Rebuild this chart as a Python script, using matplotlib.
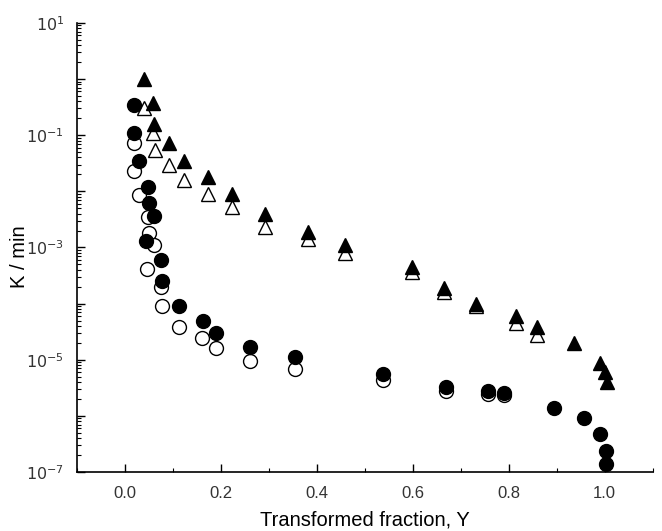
import numpy as np
import matplotlib
matplotlib.use("Agg")
import matplotlib.pyplot as plt
from matplotlib.ticker import LogLocator, FuncFormatter, MultipleLocator

plt.rcParams['font.family'] = ['Liberation Sans', 'DejaVu Sans']
plt.rcParams['mathtext.fontset'] = 'custom'
plt.rcParams['mathtext.rm'] = 'Liberation Sans Narrow'
plt.rcParams['mathtext.it'] = 'Liberation Sans Narrow'

# filled triangles
tri_f_x = [0.04, 0.058, 0.06, 0.092, 0.123, 0.173, 0.223, 0.292, 0.381, 0.458,
           0.598, 0.665, 0.731, 0.815, 0.858, 0.935, 0.99, 1.0, 1.005]
tri_f_y = [1.0, 0.37, 0.16, 0.072, 0.035, 0.018, 0.0091, 0.0039, 0.0019, 0.0011,
           4.4e-4, 1.9e-4, 1.0e-4, 5.9e-5, 3.9e-5, 2.0e-5, 8.9e-6, 6.0e-6, 4.0e-6]

# open triangles
tri_o_x = [0.04, 0.058, 0.062, 0.092, 0.123, 0.173, 0.223, 0.292, 0.381, 0.458,
           0.598, 0.665, 0.731, 0.815, 0.858]
tri_o_y = [0.30, 0.11, 0.054, 0.029, 0.016, 0.0091, 0.0052, 0.0023, 0.0014, 8.1e-4,
           3.6e-4, 1.6e-4, 8.9e-5, 4.6e-5, 2.8e-5]

# filled circles
circ_f_x = [0.019, 0.019, 0.029, 0.048, 0.05, 0.06, 0.044, 0.075, 0.077, 0.113,
            0.163, 0.19, 0.26, 0.354, 0.537, 0.669, 0.756, 0.79, 0.894, 0.956,
            0.99, 1.002, 1.002]
circ_f_y = [0.35, 0.11, 0.035, 0.012, 0.0061, 0.0036, 0.0013, 5.9e-4, 2.5e-4, 9.2e-5,
            5.0e-5, 3.0e-5, 1.7e-5, 1.1e-5, 5.6e-6, 3.3e-6, 2.8e-6, 2.6e-6, 1.4e-6, 9.0e-7,
            4.8e-7, 2.4e-7, 1.4e-7]

# open circles
circ_o_x = [0.019, 0.019, 0.029, 0.048, 0.05, 0.06, 0.046, 0.075, 0.077, 0.113,
            0.16, 0.19, 0.26, 0.354, 0.537, 0.669, 0.756, 0.79]
circ_o_y = [0.072, 0.023, 0.0085, 0.0035, 0.0018, 0.0011, 4.1e-4, 2.0e-4, 8.9e-5, 3.9e-5,
            2.4e-5, 1.6e-5, 9.6e-6, 6.9e-6, 4.4e-6, 2.8e-6, 2.5e-6, 2.4e-6]

fig = plt.figure(figsize=(6.62, 5.31), dpi=100)
ax = fig.add_axes([0.116, 0.111, 0.870, 0.846])

ms = 10
ax.plot(tri_o_x, tri_o_y, '^', ms=ms, mfc='white', mec='black', mew=1.0, ls='none')
ax.plot(circ_o_x, circ_o_y, 'o', ms=ms, mfc='white', mec='black', mew=1.0, ls='none')
ax.plot(tri_f_x, tri_f_y, '^', ms=ms, mfc='black', mec='black', ls='none')
ax.plot(circ_f_x, circ_f_y, 'o', ms=ms, mfc='black', mec='black', ls='none')

ax.set_yscale('log')
ax.set_ylim(1e-7, 10)
ax.set_xlim(-0.1, 1.1)

ax.yaxis.set_major_locator(LogLocator(base=10, numticks=20))
ax.yaxis.set_minor_locator(LogLocator(base=10, subs=np.arange(2, 10), numticks=20))


def fmt(v, pos):
    e = int(round(np.log10(v)))
    return r'$10^{%d}$' % e if e % 2 else ''


ax.yaxis.set_major_formatter(FuncFormatter(fmt))
ax.xaxis.set_major_locator(MultipleLocator(0.2))
ax.xaxis.set_minor_locator(MultipleLocator(0.1))
ax.xaxis.set_major_formatter(FuncFormatter(lambda v, p: '%.1f' % v if -0.01 < v < 1.01 else ''))

for s in ['top', 'right']:
    ax.spines[s].set_visible(False)
ax.spines['left'].set_linewidth(1.2)
ax.spines['bottom'].set_linewidth(1.2)

ax.tick_params(which='major', direction='in', length=6, width=1.0, labelsize=12,
               labelcolor='#333333')
ax.tick_params(which='minor', direction='in', length=3, width=0.8)
ax.tick_params(axis='x', pad=10)
ax.tick_params(axis='y', pad=9, labelsize=11.5)

ax.set_xlabel('Transformed fraction, Y', fontsize=14.5, labelpad=7)
ax.set_ylabel('K / min', fontsize=14.5)
ax.yaxis.set_label_coords(-0.083, 0.48)

fig.savefig('out.png', dpi=100)
